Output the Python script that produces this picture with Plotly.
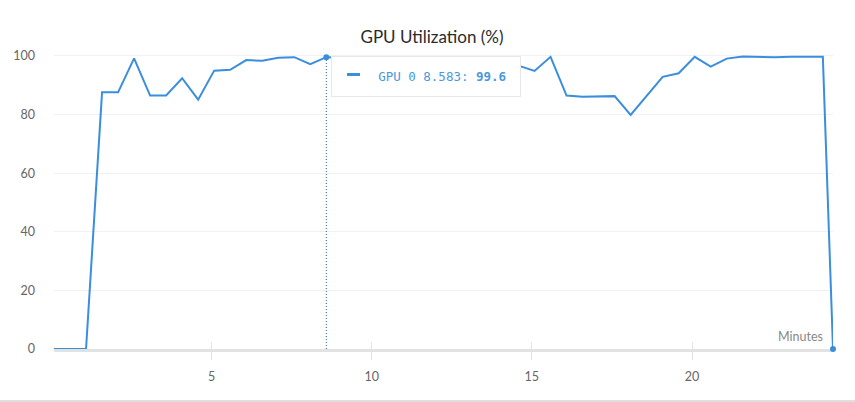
import plotly.graph_objects as go

# ---- data ----
minutes = [0.083, 0.583, 1.083, 1.583, 2.083, 2.583, 3.083, 3.583, 4.083, 4.583,
           5.083, 5.583, 6.083, 6.583, 7.083, 7.583, 8.083, 8.583, 9.083, 9.583,
           10.083, 10.583, 11.083, 11.583, 12.083, 12.583, 13.083, 13.583, 14.083, 14.583,
           15.083, 15.583, 16.083, 16.583, 17.083, 17.583, 18.083, 18.583, 19.083, 19.583,
           20.083, 20.583, 21.083, 21.583, 22.083, 22.583, 23.083, 23.583, 24.083, 24.4]
gpu0 = [0, 0, 0, 87.6, 87.6, 99.2, 86.5, 86.5, 92.4, 85.1,
        95.0, 95.3, 98.6, 98.4, 99.4, 99.6, 97.2, 99.6, 99.5, 99.3,
        99.6, 99.4, 99.5, 99.2, 99.6, 99.4, 99.0, 99.3, 98.6, 96.7,
        94.9, 99.7, 86.5, 86.1, 86.2, 86.3, 79.9, 86.5, 92.9, 94.1,
        99.7, 96.4, 99.1, 99.8, 99.6, 99.6, 99.7, 99.7, 99.7, 0]
x_ticks = [5, 10, 15, 20]
y_ticks = [0, 20, 40, 60, 80, 100]
series_name = "GPU 0"
hover_index = 17

LINE = "#3a8edb"
TXT = "#4a98dc"
FONT = "Lato"

hx, hy = minutes[hover_index], gpu0[hover_index]

fig = go.Figure()
# hover guide (dotted)
fig.add_trace(go.Scatter(x=[hx, hx], y=[0, hy], mode="lines",
                         line=dict(color="#2a65a3", width=1, dash="1px,2px"),
                         hoverinfo="skip", showlegend=False))
fig.add_trace(go.Scatter(x=minutes, y=gpu0, mode="lines", name=series_name,
                         line=dict(color=LINE, width=2), showlegend=False))
# markers at hovered point and last point
fig.add_trace(go.Scatter(x=[hx, minutes[-1]], y=[hy, gpu0[-1]], mode="markers",
                         marker=dict(color=LINE, size=6), showlegend=False,
                         cliponaxis=False, hoverinfo="skip"))

fig.update_layout(
    width=855, height=402,
    margin=dict(l=54, r=22, t=45, b=53),
    paper_bgcolor="white", plot_bgcolor="white",
    font=dict(family=FONT, size=12.5, color="#666"),
    title=dict(text="GPU Utilization (%)", x=432 / 855, xref="container",
               xanchor="center", y=1 - 37 / 402, yref="container", yanchor="middle",
               font=dict(family=FONT, size=17, color="#2b2b2b")),
    xaxis=dict(range=[minutes[0], minutes[-1]], tickvals=x_ticks,
               showgrid=False, zeroline=False,
               showline=True, linecolor="#e2e2e2", linewidth=3,
               ticks="outside", ticklen=8, tickcolor="#e2e2e2", tickwidth=1,
               ticklabelstandoff=6, layer="below traces"),
    xaxis2=dict(range=[minutes[0], minutes[-1]], tickvals=x_ticks, overlaying="x",
                anchor="y", side="bottom", showgrid=False, zeroline=False,
                ticks="inside", ticklen=7, tickcolor="#e2e2e2", tickwidth=1,
                showticklabels=False, layer="below traces"),
    yaxis=dict(range=[0, 103.75], tickvals=y_ticks, showgrid=True,
               gridcolor="#f1f1f1", gridwidth=1, zeroline=False, showline=False,
               ticklabelstandoff=18, layer="below traces"),
    showlegend=False,
)
# dummy trace for xaxis2 so it renders
fig.add_trace(go.Scatter(x=[minutes[0]], y=[None], xaxis="x2", showlegend=False,
                         hoverinfo="skip"))

# tooltip box
fig.add_annotation(
    x=hx, y=hy, xref="x", yref="y", xanchor="left", yanchor="top",
    xshift=5, yshift=1, showarrow=False,
    text="\u00a0" * 6 + f"{series_name} {hx:.3f}: <b>{hy}</b>",
    font=dict(family="DejaVu Sans Mono", size=12.5, color=TXT),
    align="left", width=186, height=37,
    bgcolor="white", bordercolor="#e8e8e8", borderwidth=1, borderpad=1,
    valign="middle",
)
# legend dash in tooltip (drawn above the box)
fig.add_annotation(
    x=hx, y=hy, xref="x", yref="y", xanchor="left", yanchor="middle",
    xshift=21, yshift=-17, showarrow=False, text="\u00a0",
    font=dict(size=1), width=13, height=3, borderpad=0, borderwidth=0,
    bgcolor=LINE,
)
# axis title
fig.add_annotation(x=1, y=0, xref="paper", yref="paper", xanchor="right",
                   yanchor="bottom", xshift=-8, yshift=3, showarrow=False,
                   text="Minutes", font=dict(family=FONT, size=12.5, color="#888"))
# bottom border line
fig.add_shape(type="line", xref="paper", yref="paper", x0=-0.07, x1=1.03,
              y0=-52 / 304, y1=-52 / 304, line=dict(color="#d4d4d4", width=1.5))

fig.write_html("out.html")
